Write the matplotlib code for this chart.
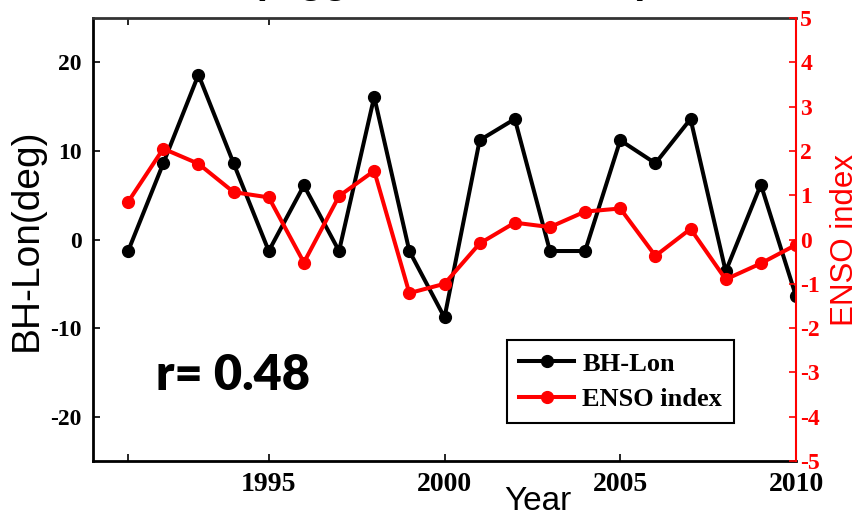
import matplotlib.pyplot as plt

# yearly series
years = list(range(1991, 2011))
bh_lon = [-1.3, 8.6, 18.6, 8.6, -1.3, 6.1, -1.3, 16.1, -1.3, -8.8,
          11.2, 13.6, -1.3, -1.3, 11.2, 8.6, 13.6, -3.6, 6.2, -6.4]
enso = [0.85, 2.05, 1.71, 1.07, 0.95, -0.52, 0.98, 1.55, -1.21, -1.0,
        -0.09, 0.38, 0.28, 0.63, 0.70, -0.37, 0.24, -0.90, -0.54, -0.12]

xticks = [1991, 1995, 2000, 2005, 2010]
xticklabels = ['', '1995', '2000', '2005', '2010']
yticks_left = [-20, -10, 0, 10, 20]
yticks_right = [-5, -4, -3, -2, -1, 0, 1, 2, 3, 4, 5]

serif = 'Liberation Serif'
sans = 'Liberation Sans'

fig = plt.figure(figsize=(8.59, 5.16), dpi=100)
ax = fig.add_axes([93/859, 1 - 461/516, 703/859, 443/516])
ax2 = ax.twinx()

l1, = ax.plot(years, bh_lon, '-o', color='black', lw=2.9, ms=8.5, label='BH-Lon')
l2, = ax2.plot(years, enso, '-o', color='red', lw=2.9, ms=8.5, label='ENSO index')

ax.set_xlim(1990, 2010)
ax.set_ylim(-25, 25)
ax2.set_ylim(-5, 5)

ax.set_xticks(xticks)
ax.set_xticklabels(xticklabels, fontfamily=serif, fontweight='bold', fontsize=20)
ax.set_yticks(yticks_left)
ax.set_yticklabels([str(v) for v in yticks_left], fontfamily=serif,
                   fontweight='bold', fontsize=17)
ax2.set_yticks(yticks_right)
ax2.set_yticklabels([str(v) for v in yticks_right], fontfamily=serif,
                    fontweight='bold', fontsize=17, color='red')

ax.tick_params(axis='x', direction='in', length=5, width=1.2, pad=8)
ax.tick_params(axis='y', direction='in', length=5, width=1.2, pad=8)
ax2.tick_params(axis='y', direction='in', length=5, width=1.2, pad=3,
                colors='red')

# a couple of short ticks along the top edge
top = ax.secondary_xaxis('top')
top.set_xticks([1991, 1995])
top.set_xticklabels(['', ''])
top.tick_params(direction='in', length=5, width=1.2)
top.spines['top'].set_visible(False)

for side in ['left', 'bottom', 'top']:
    ax.spines[side].set_linewidth(2)
ax.spines['top'].set_color('#333333')
ax.spines['right'].set_visible(False)
ax2.spines['left'].set_visible(False)
ax2.spines['bottom'].set_visible(False)
ax2.spines['top'].set_visible(False)
ax2.spines['right'].set_color('red')
ax2.spines['right'].set_linewidth(1.5)

ax.set_ylabel('BH-Lon(deg)', fontfamily=sans, fontsize=28, labelpad=4)
ax2.set_ylabel('ENSO index', fontfamily=sans, fontsize=22.5, color='red', labelpad=7)
ax.set_xlabel('Year', fontfamily=sans, fontsize=24, labelpad=-8)
ax.xaxis.label.set_x(0.633)

ax.text(0.09, 0.16, 'r= 0.48', transform=ax.transAxes, fontfamily='Lato',
        fontweight='heavy', fontsize=35, va='baseline')

leg = ax2.legend(handles=[l1, l2], loc='lower left', bbox_to_anchor=(0.589, 0.086),
                 borderaxespad=0, fancybox=False, edgecolor='black', framealpha=1,
                 handlelength=2.1, handletextpad=0.3, borderpad=0.45, labelspacing=0.45,
                 prop={'family': serif, 'weight': 'bold', 'size': 19})
leg.get_frame().set_linewidth(1.5)

fig.text(252/859, 1 + 7/516, '(lagged ENSO index)', fontfamily=sans,
         fontweight='bold', fontsize=29, ha='left', va='baseline')

fig.savefig('out.png', dpi=100)
